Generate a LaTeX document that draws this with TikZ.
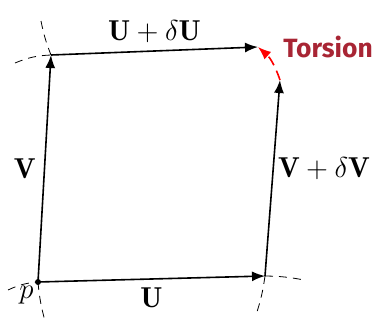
\documentclass[tikz,border=0pt]{standalone}
\usepackage{amsmath}
\usepackage{amssymb}
\usepackage{fontspec}
\newfontfamily\torsionfont{Fira Sans}
\usetikzlibrary{arrows.meta,positioning,calc}
\definecolor{torsionred}{RGB}{168,37,52}
\tikzset{
    vec/.style={-{Latex[length=6.5pt,width=5pt]}, thick},
    geo/.style={dashed, thin, dash pattern=on 4pt off 3pt},
    lbl/.style={font=\Large, inner sep=1pt}
}

\begin{document}
\begin{tikzpicture}[x=0.5pt, y=-0.5pt]
    \useasboundingbox (0,0) rectangle (372,322);

    % corners of the loop
    \coordinate (p) at (38,282);
    \coordinate (a) at (265,276);
    \coordinate (b) at (51,55);
    \coordinate (c) at (258,47);
    \coordinate (d) at (280,80);

    % free ends of the geodesics
    \coordinate (pl) at (8,290);
    \coordinate (pd) at (45,321);
    \coordinate (al) at (304,280);
    \coordinate (ad) at (256,315);
    \coordinate (bl) at (15,63);
    \coordinate (bu) at (41,21);

    \draw[geo] (pl) to[bend left=10] (p);
    \draw[geo] (p) to[bend right=5] (pd);
    \draw[geo] (a) to[bend left=5] (al);
    \draw[geo] (a) to[bend left=5] (ad);
    \draw[geo] (bl) to[bend left=10] (b);
    \draw[geo] (bu) to[bend right=5] (b);

    \fill (p) circle (3);

    \draw[vec] (p) -- node[lbl, below=3pt] {$\mathbf{U}$} (a);
    \draw[vec] (p) -- node[lbl, left=3pt] {$\mathbf{V}$} (b);
    \draw[vec] (b) -- node[lbl, above=3pt] {$\mathbf{U}+\delta\mathbf{U}$} (c);
    \draw[vec] (a) -- node[lbl, right=1pt, pos=0.55] {$\mathbf{V}+\delta\mathbf{V}$} (d);
    \draw[vec, red, dashed, dash pattern=on 5pt off 3pt] (d) to[bend right=15] (c);

    \node[font=\Large, below left=1pt and 1pt of p, inner sep=1pt] (plbl) {$p$};
    \node[font=\torsionfont\bfseries\fontsize{13.2}{15}\selectfont, text=torsionred, anchor=west, inner sep=0pt] (tors) at (283,47) {Torsion};
\end{tikzpicture}
\end{document}
